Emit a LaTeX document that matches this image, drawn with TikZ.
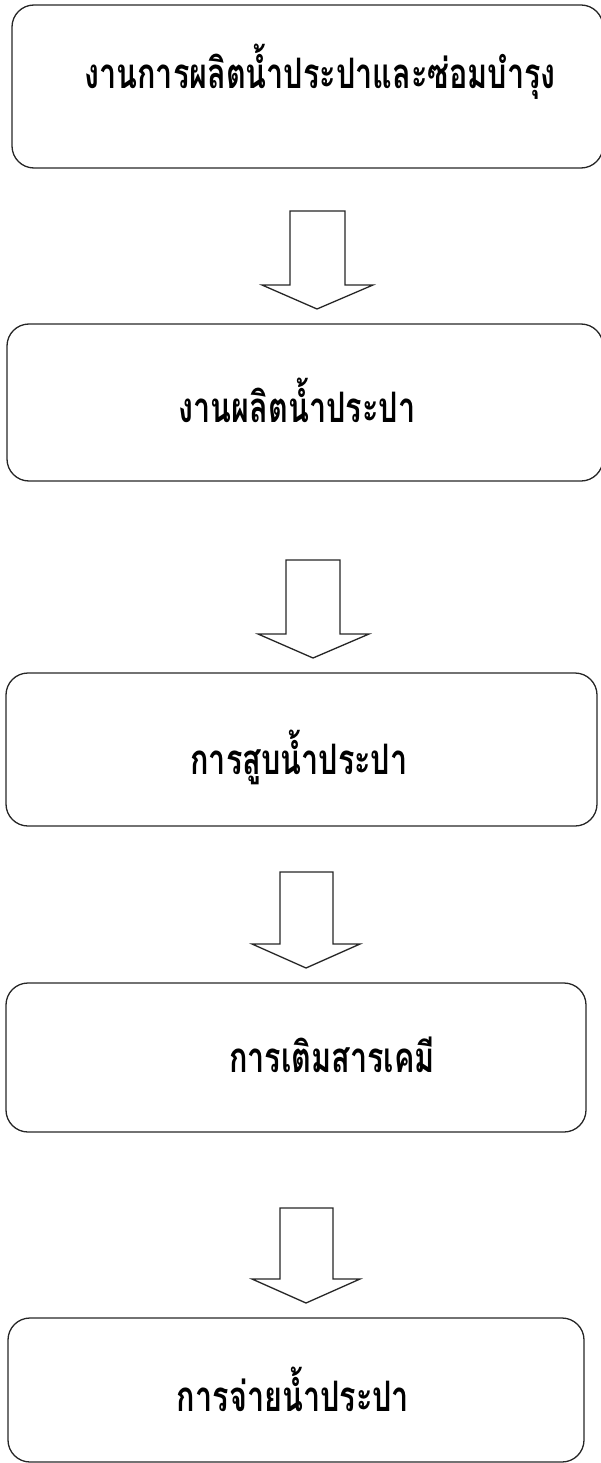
\documentclass[tikz,border=0pt]{standalone}
\usepackage{graphicx}
\usepackage{fontspec}
\newfontfamily\thaifont[Script=Thai]{Loma}
\newcommand\thlabel[1]{\scalebox{0.728}[1]{#1}}
\begin{document}
\begin{tikzpicture}[x=1pt,y=-1pt,
  stepbox/.style={draw=black!85, line width=1.3pt, rounded corners=22pt, inner sep=0pt},
  lbl/.style={font=\thaifont\bfseries\fontsize{42}{48}\selectfont, inner sep=0pt},
  blockarr/.style={draw=black!85, line width=1.3pt, fill=white, line join=miter}]
\useasboundingbox (0,0) rectangle (601,1463);
% boxes
\node[stepbox, minimum width=591pt, minimum height=163pt] (b1) at (307.5,86.5) {};
\node[stepbox, minimum width=596pt, minimum height=157pt] (b2) at (305,402.5) {};
\node[stepbox, minimum width=591pt, minimum height=153pt] (b3) at (301.5,749.5) {};
\node[stepbox, minimum width=580pt, minimum height=149pt] (b4) at (296,1057.5) {};
\node[stepbox, minimum width=576pt, minimum height=144pt] (b5) at (296,1390) {};
% labels
\node[lbl] (t1) at (320,72) {\thlabel{งานการผลิตน้ำประปาและซ่อมบำรุง}};
\node[lbl] (t2) at (297,400) {\thlabel{งานผลิตน้ำประปา}};
\node[lbl] (t3) at (299,757) {\thlabel{การสูบน้ำประปา}};
\node[lbl] (t4) at (332,1055) {\thlabel{การเติมสารเคมี}};
\node[lbl] (t5) at (293,1389) {\thlabel{การจ่ายน้ำประปา}};
% block arrows
\draw[blockarr] (290,211) -- (345,211) -- (345,285) -- (373,285) -- (317,309) -- (262,285) -- (290,285) -- cycle;
\draw[blockarr] (286,560) -- (340,560) -- (340,634) -- (369,634) -- (313,658) -- (258,634) -- (286,634) -- cycle;
\draw[blockarr] (280,872) -- (333,872) -- (333,944) -- (360,944) -- (306,968) -- (252,944) -- (280,944) -- cycle;
\draw[blockarr] (280,1208) -- (333,1208) -- (333,1279) -- (360,1279) -- (306,1303) -- (252,1279) -- (280,1279) -- cycle;
\end{tikzpicture}
\end{document}
